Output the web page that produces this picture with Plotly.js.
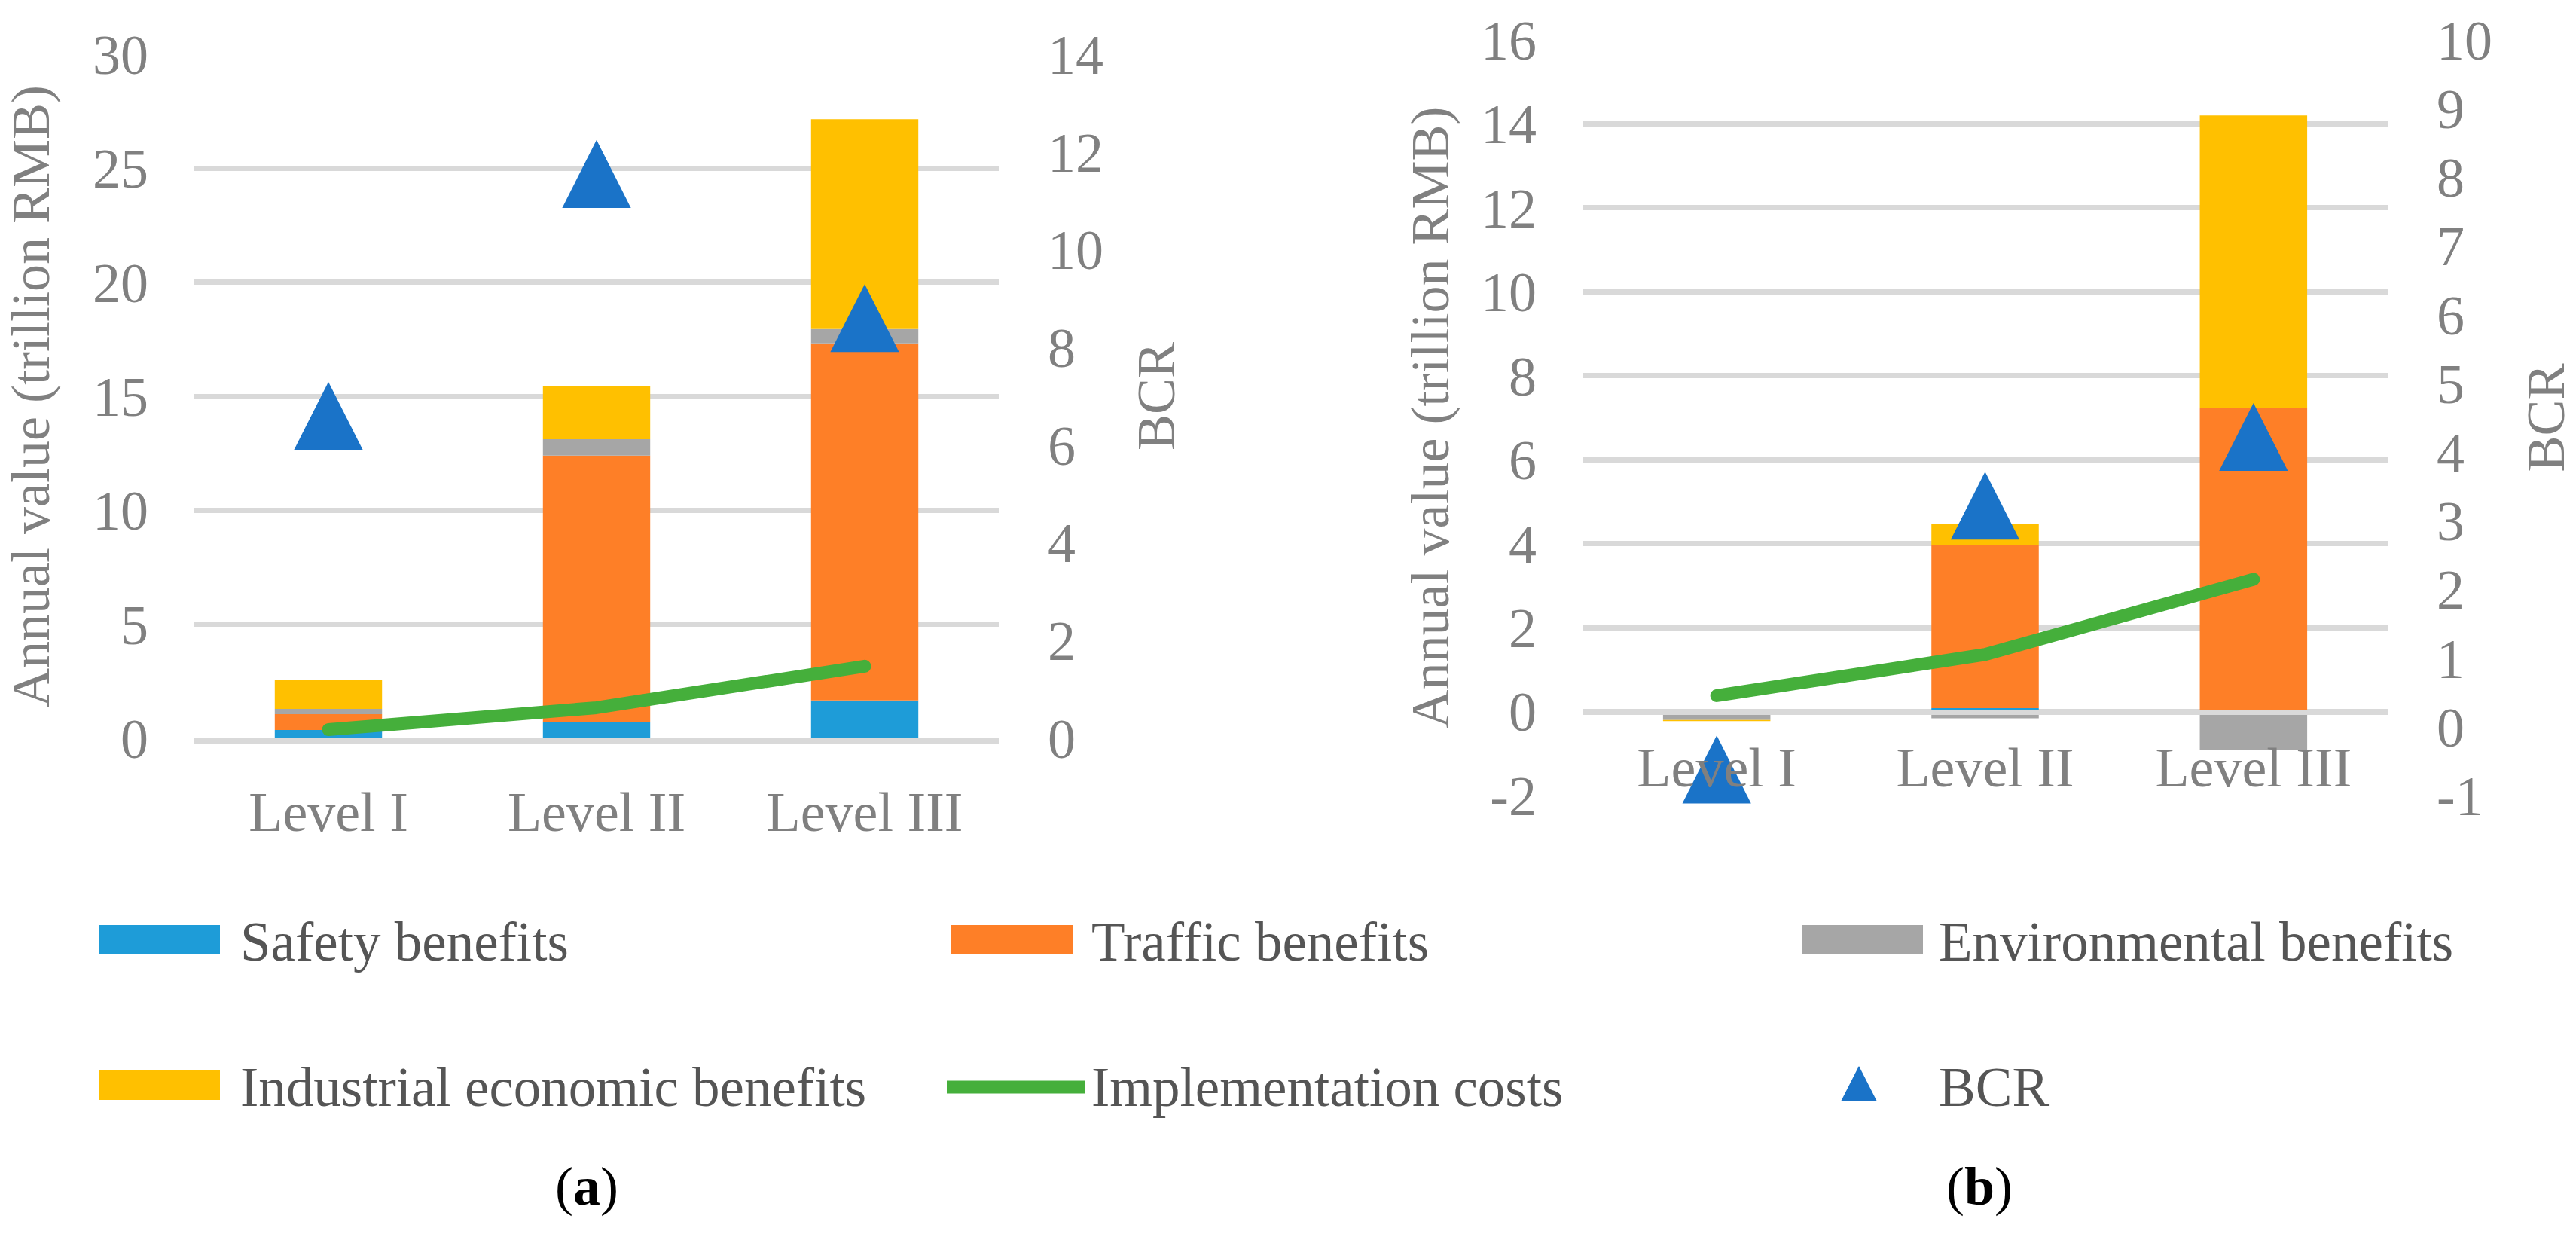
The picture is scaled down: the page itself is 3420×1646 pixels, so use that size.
<!DOCTYPE html>
<html>
<head>
<meta charset="utf-8">
<script src="https://cdn.plot.ly/plotly-3.0.1.min.js"></script>
<style>
  html, body { margin: 0; padding: 0; background: #ffffff; }
  #chart { width: 3420px; height: 1646px; }
</style>
</head>
<body>
<div id="chart"></div>
<script>
// ---------------- data ----------------
const categories = ['Level I', 'Level II', 'Level III'];

// (a)
const safetyA     = [0.36, 0.70, 1.66];
const trafficA    = [0.70, 11.70, 15.66];
const envA        = [0.23, 0.72, 0.63];
const industryA   = [1.26, 2.32, 9.20];
const costA       = [0.38, 1.34, 3.16];
const bcrA        = [6.60, 11.55, 8.60];

// (b)
const safetyB     = [0.00, 0.08, -0.06];
const trafficB    = [0.00, 3.89, 7.23];
const envB        = [-0.20, -0.16, -0.86];
const industryB   = [-0.03, 0.50, 6.97];
const costB       = [0.38, 1.36, 3.15];
const bcrB        = [-0.62, 3.22, 4.22];

// tick labels of panel (b) (plain hyphen as minus sign, as in the reference)
const tickLabelsB  = ['-2', '0', '2', '4', '6', '8', '10', '12', '14', '16'];
const tickLabelsB2 = ['-1', '0', '1', '2', '3', '4', '5', '6', '7', '8', '9', '10'];

const seriesNames = ['Safety benefits', 'Traffic benefits', 'Environmental benefits',
                     'Industrial economic benefits', 'Implementation costs', 'BCR'];
const panelLabels = ['a', 'b'];

// ---------------- style ----------------
const W = 3420, H = 1646;
const FONT = '"Liberation Serif", "Times New Roman", serif';
const C = {
  safety: '#1e9cd8', traffic: '#fe7f27', env: '#a6a6a6', industry: '#ffc000',
  cost: '#45af3b', bcr: '#1a73c8', grid: '#d9d9d9', tick: '#808080', legend: '#555555'
};
const MARKER_SIZE = 79;
const px = x => x / W;
const py = y => 1 - y / H;

function barTrace(name, y, color, xa, ya) {
  return { type: 'bar', name: name, x: categories, y: y, xaxis: xa, yaxis: ya,
           marker: { color: color }, showlegend: false, hoverinfo: 'skip' };
}
function lineTrace(y, xa, ya) {
  return { type: 'scatter', mode: 'lines', name: seriesNames[4], x: categories, y: y,
           xaxis: xa, yaxis: ya, line: { color: C.cost, width: 17 }, showlegend: false,
           cliponaxis: false, hoverinfo: 'skip' };
}
function bcrTrace(y, xa, ya) {
  return { type: 'scatter', mode: 'markers', name: seriesNames[5], x: categories, y: y,
           xaxis: xa, yaxis: ya, cliponaxis: false, showlegend: false, hoverinfo: 'skip',
           marker: { symbol: 'triangle-up', size: MARKER_SIZE, color: C.bcr, line: { width: 0 } } };
}

const data = [
  barTrace(seriesNames[0], safetyA,   C.safety,   'x', 'y'),
  barTrace(seriesNames[1], trafficA,  C.traffic,  'x', 'y'),
  barTrace(seriesNames[2], envA,      C.env,      'x', 'y'),
  barTrace(seriesNames[3], industryA, C.industry, 'x', 'y'),
  lineTrace(costA, 'x', 'y'),
  bcrTrace(bcrA, 'x', 'y2'),

  barTrace(seriesNames[0], safetyB,   C.safety,   'x2', 'y3'),
  barTrace(seriesNames[1], trafficB,  C.traffic,  'x2', 'y3'),
  barTrace(seriesNames[2], envB,      C.env,      'x2', 'y3'),
  barTrace(seriesNames[3], industryB, C.industry, 'x2', 'y3'),
  lineTrace(costB, 'x2', 'y3'),
  bcrTrace(bcrB, 'x2', 'y4')
];

// domains (paper fractions)
const xA = [px(258), px(1326)];
const xB = [px(2101), px(3170)];
const yA = [py(980), py(72)];
const yB = [py(1056), py(53)];
const rangeA = [0, 30], rangeA2 = [0, 14];
const rangeB = [-2, 16], rangeB2 = [-1, 10];
// position of the category axis of (b) where its value axis crosses zero
const zeroPosB = yB[0] + (0 - rangeB[0]) / (rangeB[1] - rangeB[0]) * (yB[1] - yB[0]);

const tickFont = { family: FONT, size: 74, color: C.tick };
const titleFont = { family: FONT, size: 72, color: C.tick };

function xAxis(domain, extra) {
  return Object.assign({
    domain: domain, type: 'category', showgrid: false, zeroline: false,
    showline: true, linecolor: C.grid, linewidth: 7, layer: 'above traces',
    ticks: '', tickfont: tickFont, fixedrange: true
  }, extra);
}
function yLeft(domain, range, dtick, anchor, standoff, labels) {
  const ax = {
    domain: domain, range: range, dtick: dtick, anchor: anchor, showgrid: true,
    gridcolor: C.grid, gridwidth: 7, zeroline: false, showline: false, ticks: '',
    tickfont: tickFont, ticklabelstandoff: 60,
    title: { text: 'Annual value (trillion RMB)', font: titleFont, standoff: standoff },
    fixedrange: true
  };
  if (labels) { ax.tickmode = 'array'; ax.tickvals = labels.map(Number); ax.ticktext = labels; }
  return ax;
}
function yRight(over, range, dtick, anchor, standoff, labels) {
  const ax = {
    overlaying: over, side: 'right', anchor: anchor, range: range, dtick: dtick,
    showgrid: false, zeroline: false, showline: false, ticks: '', tickfont: tickFont,
    ticklabelstandoff: 64,
    title: { text: 'BCR', font: titleFont, standoff: standoff }, fixedrange: true
  };
  if (labels) { ax.tickmode = 'array'; ax.tickvals = labels.map(Number); ax.ticktext = labels; }
  return ax;
}

// manual legend (wide swatches as in the reference)
const shapes = [];
const annotations = [];
function swatch(x0, x1, y0, y1, color) {
  shapes.push({ type: 'rect', xref: 'paper', yref: 'paper', x0: px(x0), x1: px(x1),
                y0: py(y1), y1: py(y0), fillcolor: color, line: { width: 0 } });
}
function legText(x, y, text) {
  annotations.push({ xref: 'paper', yref: 'paper', x: px(x), y: py(y), xanchor: 'left',
                     yanchor: 'middle', showarrow: false, text: text,
                     font: { family: FONT, size: 73, color: C.legend } });
}
swatch(131, 292, 1228, 1267, C.safety);   legText(317, 1250, seriesNames[0]);
swatch(1262, 1425, 1228, 1267, C.traffic); legText(1447, 1250, seriesNames[1]);
swatch(2392, 2553, 1228, 1267, C.env);     legText(2572, 1250, seriesNames[2]);
swatch(131, 292, 1421, 1460, C.industry); legText(317, 1443, seriesNames[3]);
shapes.push({ type: 'line', xref: 'paper', yref: 'paper', x0: px(1257), x1: px(1441),
              y0: py(1443), y1: py(1443), line: { color: C.cost, width: 17 } });
legText(1447, 1443, seriesNames[4]);
shapes.push({ type: 'path', xref: 'paper', yref: 'paper', fillcolor: C.bcr, line: { width: 0 },
              path: 'M ' + px(2444) + ' ' + py(1462) + ' L ' + px(2492) + ' ' + py(1462) +
                    ' L ' + px(2468) + ' ' + py(1415) + ' Z' });
legText(2572, 1443, seriesNames[5]);

// panel labels
[[779, panelLabels[0]], [2628, panelLabels[1]]].forEach(function (p) {
  annotations.push({ xref: 'paper', yref: 'paper', x: px(p[0]), y: py(1575), xanchor: 'center',
                     yanchor: 'middle', showarrow: false, text: '(<b>' + p[1] + '</b>)',
                     font: { family: FONT, size: 72, color: '#000000' } });
});

const layout = {
  width: W, height: H,
  margin: { l: 0, r: 0, t: 0, b: 0, pad: 0 },
  paper_bgcolor: '#ffffff', plot_bgcolor: 'rgba(0,0,0,0)',
  barmode: 'relative', bargap: 0.6,
  showlegend: false,
  font: { family: FONT, color: C.tick },
  xaxis:  xAxis(xA, { anchor: 'y', ticklabelstandoff: 27 }),
  xaxis2: xAxis(xB, { anchor: 'free', position: zeroPosB, ticklabelstandoff: 7 }),
  yaxis:  yLeft(yA, rangeA, 5, 'x', 33),
  yaxis2: yRight('y', rangeA2, 2, 'x', 44),
  yaxis3: yLeft(yB, rangeB, 2, 'x2', 18, tickLabelsB),
  yaxis4: yRight('y3', rangeB2, 1, 'x2', 46, tickLabelsB2),
  shapes: shapes,
  annotations: annotations
};

Plotly.newPlot('chart', data, layout, { staticPlot: true, displayModeBar: false }).then(function (gd) {
  // Excel-like tall triangle markers, centred on their value
  const r = MARKER_SIZE / 2;
  gd.querySelectorAll('.scatterlayer .trace .points path.point').forEach(function (p) {
    const t = p.getAttribute('transform') || '';
    p.setAttribute('transform', t + ' scale(1,1.52) translate(0,' + (r / 4) + ')');
  });
  gd.querySelectorAll('.scatterlayer .trace path.js-line').forEach(function (p) {
    p.style.strokeLinecap = 'round';
    p.style.strokeLinejoin = 'round';
  });
});
</script>
</body>
</html>
